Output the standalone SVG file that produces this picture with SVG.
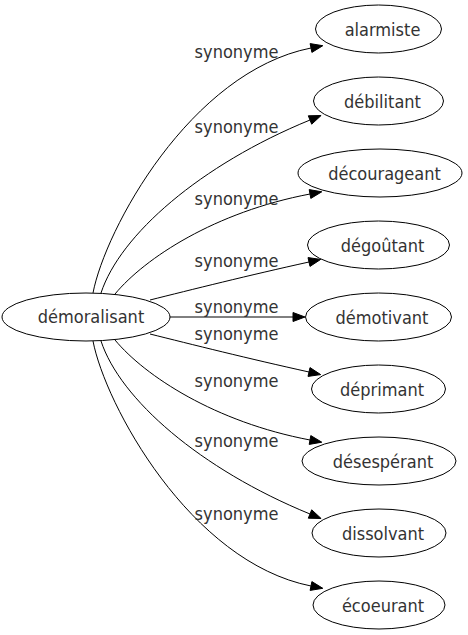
<svg xmlns="http://www.w3.org/2000/svg" width="468" height="635" viewBox="0 0 468 635">
<style>
.n ellipse{fill:none;stroke:#000;stroke-width:1}
.t{font-family:"DejaVu Sans Condensed","DejaVu Sans",sans-serif;font-stretch:condensed;font-size:18px;fill:#333;text-anchor:middle}
.e path{fill:none;stroke:#000;stroke-width:1}
.e polygon{fill:#000;stroke:#000;stroke-width:1}
</style>
<rect width="468" height="635" fill="#fff"/>
<g id="edges" class="e">
<path d="M93,293 C105,230 190,72 311,48"/><polygon points="322.8,45.7 311.9,52.4 310.1,43.6"/>
<path d="M101,293 C120,235 200,165 310,120"/><polygon points="321.1,115.5 311.7,124.2 308.3,115.8"/>
<path d="M115,294 C145,258 215,212 310,194"/><polygon points="321.8,191.8 310.8,198.4 309.2,189.6"/>
<path d="M150,300 C190,290 250,275 309,262"/><polygon points="320.7,259.4 310,266.4 308,257.6"/>
<path d="M170,317 L293,317"/><polygon points="305,317 293,312.5 293,321.5"/>
<path d="M150,334 C190,344 250,359 309,372"/><polygon points="320.7,374.6 310,367.6 308,376.4"/>
<path d="M115,340 C145,376 215,422 310,440"/><polygon points="321.8,442.2 310.8,435.6 309.2,444.4"/>
<path d="M101,341 C120,399 200,469 310,514"/><polygon points="321.1,518.5 311.7,509.8 308.3,518.2"/>
<path d="M93,341 C105,404 190,562 311,586"/><polygon points="322.8,588.3 311.9,581.6 310.1,590.4"/>
<g class="t">
<text x="236.5" y="58.3">synonyme</text>
<text x="236.5" y="133.3">synonyme</text>
<text x="236.5" y="205">synonyme</text>
<text x="236.5" y="266.7">synonyme</text>
<text x="236.5" y="312.7">synonyme</text>
<text x="236.5" y="340">synonyme</text>
<text x="236.5" y="386.7">synonyme</text>
<text x="236.5" y="447.3">synonyme</text>
<text x="236.5" y="520">synonyme</text>
</g>
</g>
<g id="n0" class="n"><ellipse cx="86" cy="317" rx="84" ry="24"/><text class="t" x="91" y="323.3">démoralisant</text></g>
<g id="n1" class="n"><ellipse cx="378.5" cy="29" rx="63" ry="24"/><text class="t" x="382.5" y="35.5">alarmiste</text></g>
<g id="n2" class="n"><ellipse cx="378.5" cy="101" rx="65" ry="24"/><text class="t" x="382.5" y="107.5">débilitant</text></g>
<g id="n3" class="n"><ellipse cx="380" cy="173" rx="82" ry="24"/><text class="t" x="384.5" y="179.5">décourageant</text></g>
<g id="n4" class="n"><ellipse cx="378.5" cy="245" rx="71" ry="24"/><text class="t" x="382.5" y="251.5">dégoûtant</text></g>
<g id="n5" class="n"><ellipse cx="378.5" cy="317" rx="73" ry="24"/><text class="t" x="382" y="323.5">démotivant</text></g>
<g id="n6" class="n"><ellipse cx="378.5" cy="389" rx="67" ry="24"/><text class="t" x="382" y="395.5">déprimant</text></g>
<g id="n7" class="n"><ellipse cx="379" cy="461" rx="77" ry="24"/><text class="t" x="383" y="467.5">désespérant</text></g>
<g id="n8" class="n"><ellipse cx="379" cy="533" rx="67" ry="24"/><text class="t" x="383" y="539.5">dissolvant</text></g>
<g id="n9" class="n"><ellipse cx="379" cy="605" rx="66" ry="24"/><text class="t" x="383" y="611.5">écoeurant</text></g>
</svg>
